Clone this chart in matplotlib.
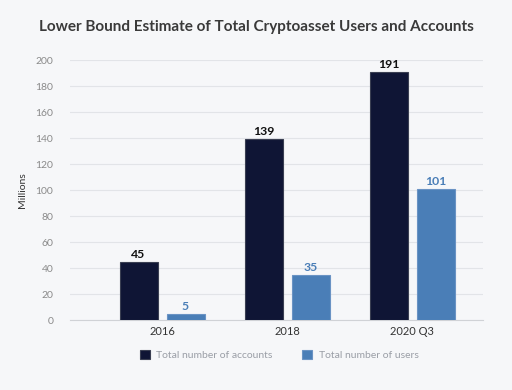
import matplotlib

matplotlib.use("Agg")
import matplotlib.pyplot as plt
import numpy as np

plt.rcParams["font.family"] = ["Lato", "DejaVu Sans"]

# data
categories = ["2016", "2018", "2020 Q3"]
accounts = [45, 139, 191]
users = [5, 35, 101]
yticks = [0, 20, 40, 60, 80, 100, 120, 140, 160, 180, 200]

BG = "#f6f7f9"
NAVY = "#0f1535"
BLUE = "#4a7eb7"

fig = plt.figure(figsize=(5.12, 3.90), dpi=100, facecolor=BG)
ax = fig.add_axes([70 / 512, 1 - 320 / 390, 413 / 512, 260 / 390], facecolor=BG)

x = np.arange(len(categories))
w = 0.304
off = 0.188
b1 = ax.bar(x - off, accounts, w, color=NAVY, edgecolor="#3a3f52", linewidth=0.8,
            label="Total number of accounts", zorder=3)
b2 = ax.bar(x + off, users, w, color=BLUE, edgecolor="#6a93c4", linewidth=0.8,
            label="Total number of users", zorder=3)

for xi, v in zip(x, accounts):
    ax.text(xi - off, v + 1.5, str(v), ha="center", va="bottom", fontsize=8.8,
            fontweight="bold", color="#111111")
for xi, v in zip(x, users):
    ax.text(xi + off, v + 1.5, str(v), ha="center", va="bottom", fontsize=8.8,
            fontweight="bold", color=BLUE)

ax.set_xlim(-0.736, 2.568)
ax.set_ylim(0, 200)
ax.set_yticks(yticks)
ax.set_xticks(x, categories)
ax.grid(axis="y", color="#e2e4e8", linewidth=0.8, zorder=0)
for s in ["top", "right", "left"]:
    ax.spines[s].set_visible(False)
ax.spines["bottom"].set_color("#d0d2d6")
ax.spines["bottom"].set_linewidth(0.8)
ax.tick_params(axis="y", length=0, labelsize=7.5, labelcolor="#8a8a8a", pad=12)
ax.tick_params(axis="x", length=0, labelsize=8, labelcolor="#333333", pad=4)
ax.set_ylabel("Millions", fontsize=7.5, color="#333333", labelpad=6)

fig.text(0.5, 1 - 27 / 390, "Lower Bound Estimate of Total Cryptoasset Users and Accounts",
         ha="center", va="center", fontsize=11, fontweight="bold", color="#3a3a3a")

leg = fig.legend(handles=[b1, b2], loc="center", bbox_to_anchor=(0.545, 1 - 355 / 390),
                 ncol=2, frameon=False, fontsize=7.5, handlelength=1.0, handleheight=1.0,
                 columnspacing=2.8, handletextpad=0.6)
for t in leg.get_texts():
    t.set_color("#9a9ea6")

fig.savefig("out.png", dpi=100, facecolor=BG)
